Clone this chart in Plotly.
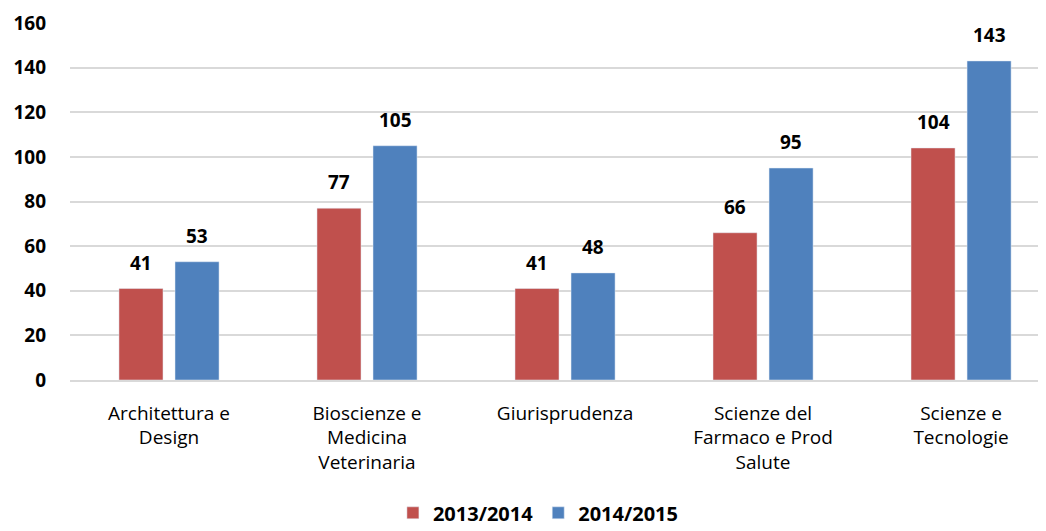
import plotly.graph_objects as go

categorie = ["Architettura e<br>Design", "Bioscienze e<br>Medicina<br>Veterinaria",
             "Giurisprudenza", "Scienze del<br>Farmaco e Prod<br>Salute", "Scienze e<br>Tecnologie"]
anno_2013_2014 = [41, 77, 41, 66, 104]
anno_2014_2015 = [53, 105, 48, 95, 143]
y_ticks = [0, 20, 40, 60, 80, 100, 120, 140, 160]

FONT = "Open Sans, Liberation Sans, sans-serif"

fig = go.Figure()
fig.add_trace(go.Bar(x=categorie, y=anno_2013_2014, name="2013/2014",
                     marker=dict(color="#C0504D")))
fig.add_trace(go.Bar(x=categorie, y=anno_2014_2015, name="2014/2015",
                     marker=dict(color="#4F81BD")))

# etichette dei valori sopra le barre
for valori, dx in [(anno_2013_2014, -28), (anno_2014_2015, 28)]:
    for cat, v in zip(categorie, valori):
        fig.add_annotation(x=cat, y=v, text=str(v), showarrow=False,
                           xshift=dx, yshift=26, yanchor="middle",
                           font=dict(size=19, color="black", family=FONT, weight="bold"))

# la pagina html ha 8px di margine sul body
fig.update_layout(
    width=1038, height=523,
    barmode="group", bargap=0.434, bargroupgap=0.214,
    margin=dict(l=62, r=0, t=15, b=151, autoexpand=False),
    paper_bgcolor="white", plot_bgcolor="white",
    font=dict(family=FONT, color="black"),
    legend=dict(orientation="h", xref="container", x=0.511, xanchor="center",
                yref="paper", y=-0.372, yanchor="middle",
                font=dict(size=20, weight="bold"), itemwidth=30),
)
fig.update_xaxes(range=[-0.5, 4.429], showgrid=False, showline=True,
                 linecolor="#d9d9d9", linewidth=1.5,
                 tickfont=dict(size=19), ticks="", ticklabelstandoff=15)
fig.update_yaxes(range=[0, 160], tickvals=y_ticks, showgrid=True,
                 gridcolor="#d9d9d9", gridwidth=1.5, zeroline=False,
                 tickfont=dict(size=19, weight="bold"), ticklabelstandoff=23)

fig.write_html("out.html")
